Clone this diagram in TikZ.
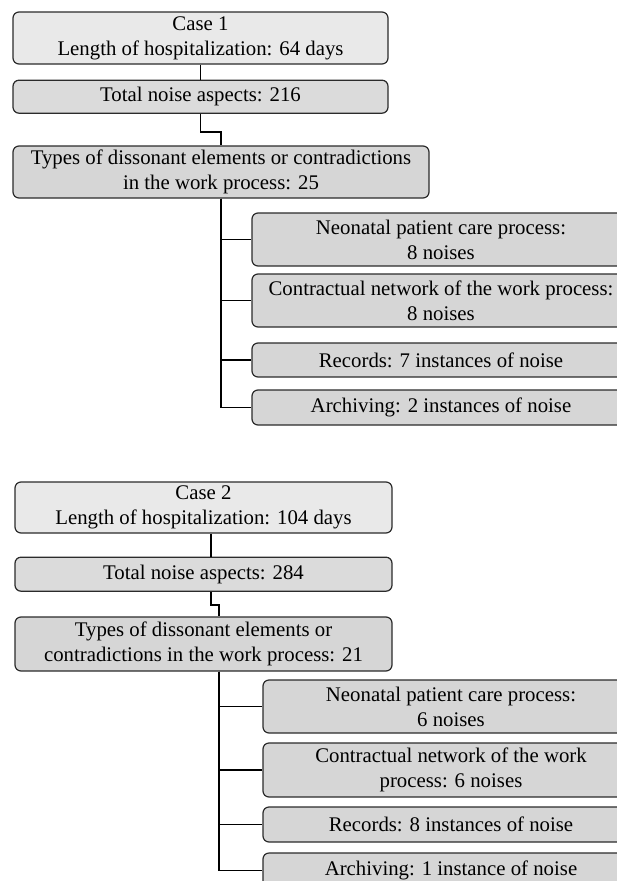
\documentclass[tikz,border=0pt]{standalone}
\usepackage{fontspec}
\setmainfont{Liberation Serif}
\usetikzlibrary{positioning}
\definecolor{CaseFill}{HTML}{E9E9E9}
\definecolor{NoiseFill}{HTML}{DBDBDB}
\definecolor{TypeFill}{HTML}{D6D6D6}
\definecolor{BoxLine}{HTML}{2B2B2B}

\begin{document}
\begin{tikzpicture}[x=1pt,y=-1pt,font=\fontsize{20.8}{25}\selectfont]
  \tikzstyle{box}=[rounded corners=6pt, draw=BoxLine, line width=1.2pt, inner sep=0pt, align=center, fill=TypeFill]
  \tikzstyle{wide}=[box, minimum width=375pt]
  \tikzstyle{leaf}=[box, minimum width=378pt]
  \tikzstyle{link}=[line width=1.6pt]
  \useasboundingbox (0,0) rectangle (617,881);
  \clip (0,0) rectangle (617,881);
  \node[wide, fill=CaseFill, minimum height=52pt] (case1) at (200.5,38) {Case 1\\Length of hospitalization: 64 days};
  \node[wide, fill=NoiseFill, minimum height=33pt, below=15pt of case1] (noise1) {Total noise aspects: 216};
  \node[box, minimum width=416pt, minimum height=52pt] (types1) at (221,172) {Types of dissonant elements or contradictions\\in the work process: 25};
  \node[leaf, minimum height=53pt] (care1) at (441,239.5) {Neonatal patient care process:\\8 noises};
  \node[leaf, minimum height=53pt] (net1) at (441,300.5) {Contractual network of the work process:\\8 noises};
  \node[leaf, minimum height=34pt] (rec1) at (441,360) {Records: 7 instances of noise};
  \node[leaf, minimum height=35pt] (arch1) at (441,407.5) {Archiving: 2 instances of noise};
  \draw[link] (case1) -- (noise1);
  \draw[link] (noise1.south) -- ++(0,18) -| (types1.north);
  \foreach \n in {care1,net1,rec1,arch1}
    \draw[link] (types1.south) |- (\n.west);

  \node[wide, minimum width=377pt, fill=CaseFill, minimum height=51pt] (case2) at (203.5,507.5) {Case 2\\Length of hospitalization: 104 days};
  \node[wide, minimum width=377pt, fill=NoiseFill, minimum height=34pt, below=23pt of case2] (noise2) {Total noise aspects: 284};
  \node[box, minimum width=377pt, minimum height=54pt] (types2) at (203.5,644) {Types of dissonant elements or\\contradictions in the work process: 21};
  \node[leaf, minimum width=376pt, minimum height=53pt] (care2) at (451,706.5) {Neonatal patient care process:\\6 noises};
  \node[leaf, minimum width=376pt, minimum height=54pt] (net2) at (451,770) {Contractual network of the work\\process: 6 noises};
  \node[leaf, minimum width=376pt, minimum height=35pt] (rec2) at (451,824.5) {Records: 8 instances of noise};
  \node[leaf, minimum width=376pt, minimum height=35pt] (arch2) at (451,870.5) {Archiving: 1 instance of noise};
  \draw[link] ([xshift=7.5pt]case2.south) -- ([xshift=7.5pt]noise2.north);
  \draw[link] ([xshift=7.5pt]noise2.south) -- ++(0,13) -| ([xshift=15.5pt]types2.north);
  \foreach \n in {care2,net2,rec2,arch2}
    \draw[link] ([xshift=15.5pt]types2.south) |- (\n.west);
\end{tikzpicture}
\end{document}
